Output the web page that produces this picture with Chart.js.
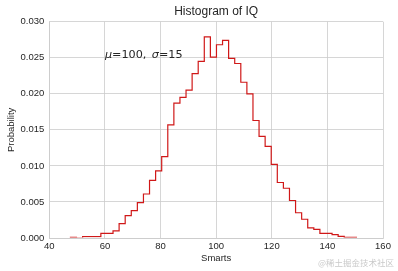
<!DOCTYPE html>
<html>
<head>
<meta charset="utf-8">
<title>Histogram of IQ</title>
<script src="https://cdn.jsdelivr.net/npm/chart.js@4/dist/chart.umd.min.js"></script>
<style>
  body { margin: 0; background: #fff; }
  #wrap { position: relative; width: 398px; height: 271px; }
  .mark { position: absolute; right: 4px; bottom: 3px; font: 8.5px "Noto Sans CJK SC", sans-serif; color: #c9c9c9; }
</style>
</head>
<body>
<div id="wrap">
  <canvas id="histChart" width="398" height="271"></canvas>
  <div class="mark">@稀土掘金技术社区</div>
</div>
<script>
// histogram of IQ scores, 47 visible bins (step outline)
const binStart = 47.6;
const binWidth = 2.188;
const density = [
    0.0001, 0, 0.00018, 0.00018, 0.00018, 0.00065, 0.00065, 0.0010, 0.0020, 0.0031,
    0.0038, 0.0049, 0.0061, 0.0080, 0.0093, 0.0113, 0.0157, 0.0187, 0.0195, 0.0205,
    0.0228, 0.0245, 0.0279, 0.0251, 0.0268, 0.0274, 0.0249, 0.0242, 0.0216, 0.0200,
    0.0163, 0.0141, 0.0127, 0.0102, 0.0077, 0.0069, 0.0052, 0.0035, 0.0026, 0.0014,
    0.0012, 0.00065, 0.00065, 0.00046, 0.00022, 0.0001, 0.0001
];
const xTicks = [40, 60, 80, 100, 120, 140, 160];
const yTicks = [0, 0.005, 0.010, 0.015, 0.020, 0.025, 0.030];
const note = { x: 60, y: 0.025 };

const textColor = "#262626";
const gridColor = "#cccccc";
const tickFont = { family: "'Liberation Sans', Arial, sans-serif", size: 9.5 };

// build the outline: up at the first edge, flat across each bin, down at the last edge
const outline = [{ x: binStart, y: 0 }];
density.forEach((d, i) => {
    outline.push({ x: binStart + i * binWidth, y: d });
    outline.push({ x: binStart + (i + 1) * binWidth, y: d });
});
outline.push({ x: binStart + density.length * binWidth, y: 0 });

// draws the "mu=100, sigma=15" note like matplotlib mathtext
const notePlugin = {
    id: "note",
    afterDatasetsDraw(chart) {
        const ctx = chart.ctx;
        let x = chart.scales.x.getPixelForValue(note.x);
        const y = chart.scales.y.getPixelForValue(note.y);
        const parts = [
            ["italic", "\u03bc", 0], ["normal", "=100,", 5.5],
            ["italic", "\u03c3", 0], ["normal", "=15", 0]
        ];
        ctx.save();
        ctx.fillStyle = textColor;
        ctx.textBaseline = "alphabetic";
        parts.forEach(([style, str, gap]) => {
            ctx.font = style + " 11.2px 'DejaVu Sans', sans-serif";
            ctx.fillText(str, x, y);
            x += ctx.measureText(str).width + gap;
        });
        ctx.restore();
    }
};

new Chart(document.getElementById("histChart"), {
    type: "line",
    data: {
        datasets: [{
            data: outline,
            borderColor: "#d01818",
            borderWidth: 1.2,
            pointRadius: 0,
            tension: 0,
            fill: false,
            clip: { left: 0, top: 0, right: 0, bottom: -0.5 }
        }]
    },
    options: {
        responsive: false,
        animation: false,
        layout: { padding: { top: 0, right: 15, bottom: 0, left: 0 } },
        plugins: {
            legend: { display: false },
            tooltip: { enabled: false },
            title: {
                display: true,
                text: "Histogram of IQ",
                fullSize: false,
                color: textColor,
                font: { family: "'Liberation Sans', Arial, sans-serif", size: 12, weight: "normal" },
                padding: { top: 4, bottom: 3.3 }
            }
        },
        scales: {
            x: {
                type: "linear",
                min: 40,
                max: 160,
                afterBuildTicks: axis => { axis.ticks = xTicks.map(v => ({ value: v })); },
                afterFit: axis => { axis.height = 33; },
                grid: { color: gridColor, lineWidth: 0.8, drawTicks: false },
                border: { color: gridColor, width: 0.8 },
                ticks: { color: textColor, font: tickFont, padding: 3, maxRotation: 0 },
                title: {
                    display: true,
                    text: "Smarts",
                    color: textColor,
                    font: tickFont,
                    padding: { top: 0, bottom: 7 }
                }
            },
            y: {
                min: 0,
                max: 0.03,
                afterBuildTicks: axis => { axis.ticks = yTicks.map(v => ({ value: v })); },
                afterFit: axis => { axis.width = 49.3; },
                grid: { color: gridColor, lineWidth: 0.8, drawTicks: false },
                border: { color: gridColor, width: 0.8 },
                ticks: {
                    color: textColor,
                    font: tickFont,
                    padding: 5,
                    callback: v => v.toFixed(3)
                },
                title: {
                    display: true,
                    text: "Probability",
                    color: textColor,
                    font: tickFont,
                    padding: { top: 6, bottom: 0 }
                }
            }
        }
    },
    plugins: [notePlugin]
});
</script>
</body>
</html>
